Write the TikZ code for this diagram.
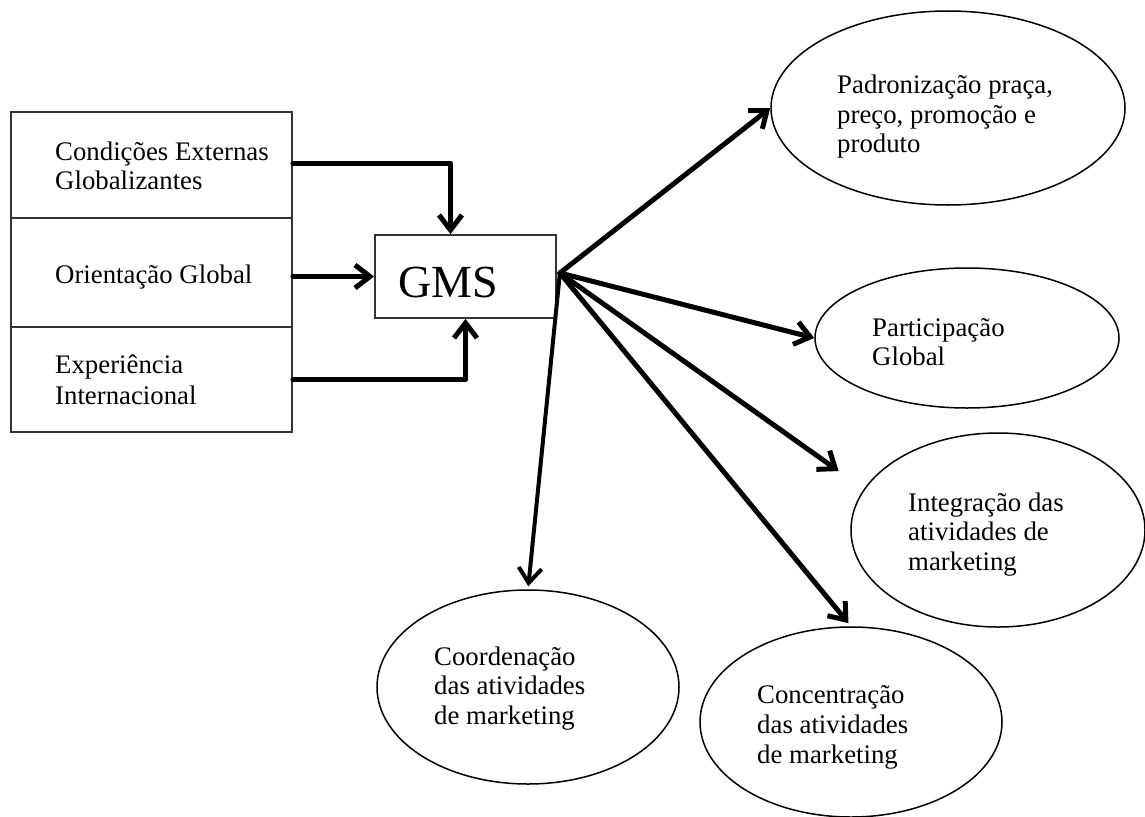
\documentclass[tikz,border=0pt]{standalone}
\usepackage{fontspec}
\setmainfont{Liberation Serif}
\usetikzlibrary{arrows.meta,shapes.geometric}
\begin{document}
\begin{tikzpicture}[x=1pt,y=-1pt,
 boxn/.style={draw=black!80,line width=1.8pt,minimum width=281pt,inner sep=0pt},
 ell/.style={draw,ellipse,line width=1.5pt,inner sep=0pt},
 txt/.style={inner sep=0pt,align=left,anchor=west,font=\fontsize{26.8}{29.5}\selectfont},
 arr/.style={line width=5pt,line join=round,line cap=round,-{Straight Barb[length=15pt,width=23pt]}},
]
\useasboundingbox (0,0) rectangle (1145,816);
% left column
\node[boxn,minimum height=106pt] (box1) at (151.5,165) {};
\node[boxn,minimum height=109pt] (box2) at (151.5,272.5) {};
\node[boxn,minimum height=105pt] (box3) at (151.5,379.5) {};
\node[txt] (box1t) at (55,166) {Condições Externas\\Globalizantes};
\node[txt] (box2t) at (55,276.7) {Orientação Global};
\node[txt,font=\fontsize{26.8}{30.5}\selectfont] (box3t) at (55,380) {Experiência\\Internacional};
% GMS
\node[draw=black!80,line width=1.8pt,minimum width=181pt,minimum height=83pt,
      inner xsep=23pt,inner ysep=0pt,text width=135pt,align=left,
      text height=41pt,text depth=0pt,font=\fontsize{46}{50}\selectfont] (GMS) at (465.5,276.5) {GMS};
\coordinate (hub) at ([xshift=3pt,yshift=3.5pt]GMS.east);
% ellipses
\node[ell,minimum width=354pt,minimum height=194pt] (padr) at (948,108) {};
\node[ell,minimum width=304pt,minimum height=140pt] (partic) at (967,338) {};
\node[ell,minimum width=294pt,minimum height=194pt] (integ) at (998,530) {};
\node[ell,minimum width=302pt,minimum height=190pt] (conc) at (851,722) {};
\node[ell,minimum width=302pt,minimum height=194pt] (coord) at (528,687) {};
\node[txt] (padrt) at (837,117) {Padronização praça,\\preço, promoção e\\produto};
\node[txt] (partict) at (872,342) {Participação\\Global};
\node[txt] (integt) at (908,534.5) {Integração das\\atividades de\\marketing};
\node[txt,font=\fontsize{26.8}{30}\selectfont] (conct) at (757,727) {Concentração\\das atividades\\de marketing};
\node[txt] (coordt) at (434,688.5) {Coordenação\\das atividades\\de marketing};
% connectors into GMS
\draw[arr] (box1.east |- 0,163) -| ([xshift=-15pt]GMS.north);
\draw[arr] (box2.east |- GMS.west) -- (GMS.west);
\draw[arr] (box3.east) -| (GMS.south);
% connectors out of GMS
\draw[arr] (hub) -- (padr.west);
\draw[arr] (hub) -- (partic.west);
\draw[arr,shorten >=31pt] (hub) -- (integ.163);
\draw[arr,shorten >=4pt] (hub) -- (conc.north);
\draw[arr,line width=4pt,shorten >=3pt] (hub) -- (coord.north);
\end{tikzpicture}
\end{document}
